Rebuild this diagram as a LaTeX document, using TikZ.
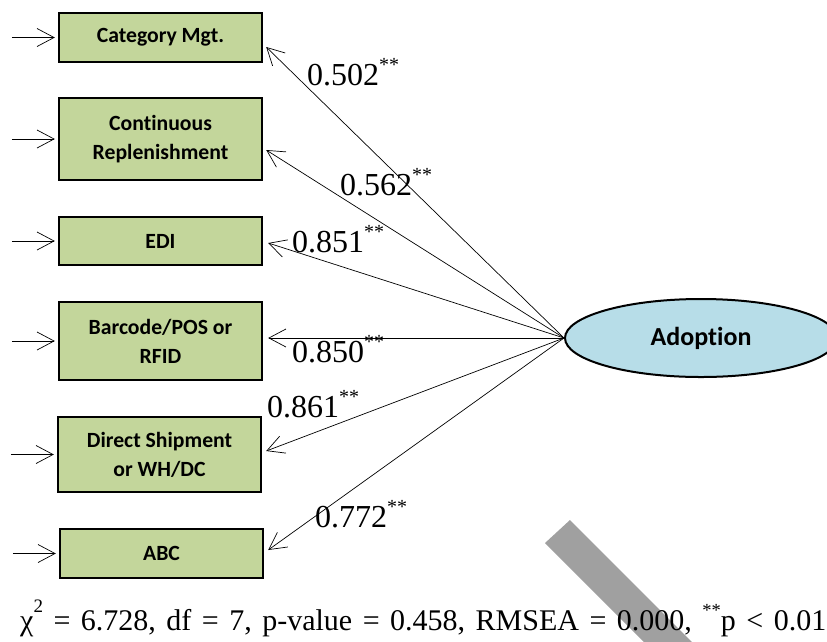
\documentclass[tikz,border=0pt]{standalone}
\usepackage{fontspec}
\setmainfont{Liberation Serif}
\newfontfamily\labelfont{Carlito}[Ligatures=NoCommon]
\usetikzlibrary{arrows.meta,shapes.geometric}

% significance stars after a loading
\newcommand\starsmark{\raisebox{13.5pt}{\fontsize{20}{20}\selectfont **}}
\newcommand\starsfoot{\raisebox{13.5pt}{\fontsize{18.5}{18.5}\selectfont **}}
% the fit line is set with wide word gaps
\newcommand\widespaces{\spaceskip=10.5pt\relax}

\definecolor{boxgreen}{HTML}{C3D69B}
\definecolor{ovalblue}{HTML}{B7DDE8}
\definecolor{bandgray}{HTML}{A0A0A0}

\tikzset{
  itembox/.style={draw=black, line width=2.4pt, fill=boxgreen, rectangle,
    minimum width=203pt, inner sep=0pt, align=center,
    font=\labelfont\bfseries\fontsize{21.7}{29}\selectfont},
  latent/.style={draw=black, line width=2pt, fill=ovalblue, ellipse,
    minimum width=272pt, minimum height=78pt, inner sep=0pt,
    font=\labelfont\bfseries\fontsize{26}{30}\selectfont},
  path/.style={line width=0.7pt, -{Straight Barb[length=17pt,width=18pt,line width=0.7pt]}},
  loading/.style={anchor=base west, inner sep=0pt, font=\fontsize{32}{32}\selectfont},
  fitnote/.style={anchor=base west, inner sep=0pt, font=\fontsize{30}{30}\selectfont}
}

\begin{document}
\begin{tikzpicture}[x=1pt, y=-1pt]
  \useasboundingbox (0,0) rectangle (827,641);
  \clip (0,0) rectangle (827,641);
  \fill[white] (0,0) rectangle (827,641);

  % diagonal grey band behind the footnote
  \fill[bandgray] (545,543) -- (570,520) -- (700,650) -- (675,673) -- cycle;

  % observed indicators
  \node[itembox, minimum height=49pt] (cat)  at (160.5,37.5) {Category Mgt.};
  \node[itembox, minimum height=82pt] (cont) at (160.5,139)  {Continuous\\Replenishment};
  \node[itembox, minimum height=48pt] (edi)  at (160.5,241)  {EDI};
  \node[itembox, minimum height=78pt] (bar)  at (160.5,341)  {Barcode/POS or\\RFID};
  \node[itembox, minimum height=75pt] (dir)  at (159.5,454.5){Direct Shipment\\or WH/DC};
  \node[itembox, minimum height=49pt] (abc)  at (161.5,553.5){ABC};

  % latent factor
  \node[latent] (ad) at (701,338) {Adoption};

  % error terms
  \foreach \b in {cat,cont,edi,bar,dir,abc}
    \draw[path] ([xshift=-46pt]\b.west) -- ([xshift=-3pt]\b.west);

  % factor loadings
  \draw[path] (ad.west) -- ([shift={(3,9.5)}]cat.east);
  \draw[path] (ad.west) -- ([shift={(3,11)}]cont.east);
  \draw[path] (ad.west) -- ([shift={(5,2)}]edi.east);
  \draw[path] (ad.west) -- ([shift={(5,-3)}]bar.east);
  \draw[path] (ad.west) -- ([shift={(4,-3.5)}]dir.east);
  \draw[path] (ad.west) -- ([shift={(4,-3.5)}]abc.east);

  \node[loading] (l1) at (307,85)  {0.502\starsmark};
  \node[loading] (l2) at (340,195) {0.562\starsmark};
  \node[loading] (l3) at (292,252) {0.851\starsmark};
  \node[loading] (l4) at (292,362) {0.850\starsmark};
  \node[loading] (l5) at (267,417) {0.861\starsmark};
  \node[loading] (l6) at (315,527) {0.772\starsmark};

  % model fit
  \node[fitnote] (fit) at (20,630)
    {\widespaces χ\raisebox{18pt}{\fontsize{19}{19}\selectfont 2} = 6.728, df = 7, p-value = 0.458, RMSEA = 0.000, \starsfoot p < 0.01};
\end{tikzpicture}
\end{document}
